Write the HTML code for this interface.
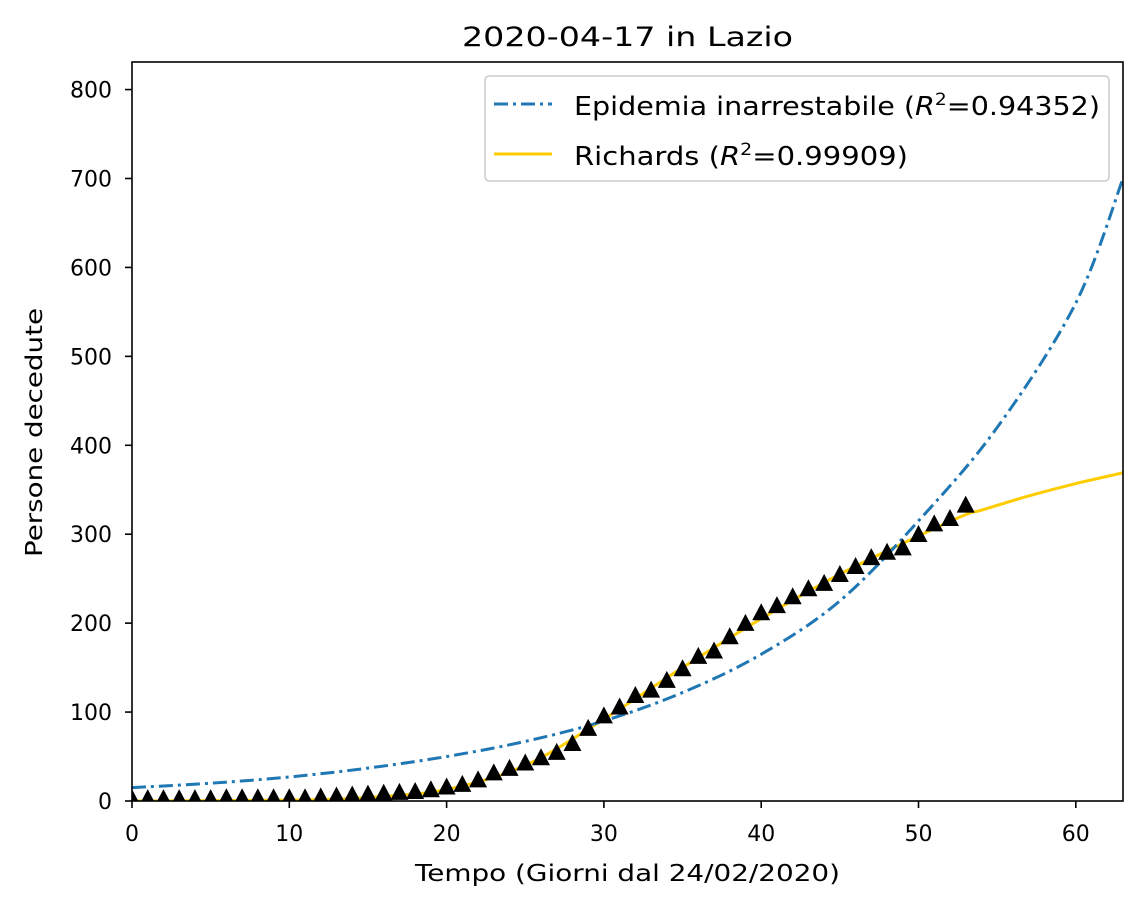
<!DOCTYPE html>
<html><head><meta charset="utf-8"><style>
body{margin:0;background:#fff;font-family:"DejaVu Sans","Liberation Sans",sans-serif}
svg text{font-family:"DejaVu Sans","Liberation Sans",sans-serif}
</style></head><body>
<svg id="c" width="1143" height="908" xmlns="http://www.w3.org/2000/svg">
<rect width="1143" height="908" fill="#fff"/>
<g id="plot"></g>
<rect x="132" y="62" width="991" height="739" fill="none" stroke="#000" stroke-width="1.6"/>
<text x="462" y="46" font-size="27" textLength="331" lengthAdjust="spacingAndGlyphs">2020-04-17 in Lazio</text>
<text x="415" y="881" font-size="23" textLength="425" lengthAdjust="spacingAndGlyphs">Tempo (Giorni dal 24/02/2020)</text>
<text transform="translate(42,557) rotate(-90)" font-size="23" textLength="249" lengthAdjust="spacingAndGlyphs">Persone decedute</text>
<g>
<rect x="485" y="76" width="624" height="105" rx="4" fill="#fff" fill-opacity="0.85" stroke="#ccc" stroke-width="1.5"/>
<line x1="494" y1="104" x2="552" y2="104" stroke="#1f77b4" stroke-width="3" stroke-dasharray="14,5,3,5"/>
<text x="574" y="115" font-size="26" textLength="526" lengthAdjust="spacingAndGlyphs">Epidemia inarrestabile (<tspan font-style="italic">R</tspan><tspan font-size="17" dy="-10">2</tspan><tspan dy="10">=0.94352)</tspan></text>
<line x1="494" y1="154" x2="552" y2="154" stroke="#ffcc00" stroke-width="3"/>
<text x="574" y="165" font-size="26" textLength="334" lengthAdjust="spacingAndGlyphs">Richards (<tspan font-style="italic">R</tspan><tspan font-size="17" dy="-10">2</tspan><tspan dy="10">=0.99909)</tspan></text>
</g>
</svg>
<script>
const xTicks=[0,10,20,30,40,50,60];
const yTicks=[0,100,200,300,400,500,600,700,800];
const expX=[0,5,10,15,20,25,30,35,40,45,50,55,60,63];
const expY=[15,20,27,37,50,67,90,122,165,225,315,420,560,700];
const richX=[0,10,15,20,25,30,35,40,45,50,53,54,57,60,63];
const richY=[0,1,4,13,40,92,150,205,255,298,322,327,343,357,369];
const obsX=[];for(let i=0;i<=53;i++)obsX.push(i);
const obsY=[1,1,1,1,1,1,2,2,2,2,2,2,3,4,5,6,7,8,9,11,14,17,22,30,35,41,47,53,63,80,94,104,117,123,134,147,161,167,183,198,210,218,228,237,243,253,262,272,278,283,298,310,316,331];
const X=v=>132+v*(991/63), Y=v=>801-v*(739/831);
const NS='http://www.w3.org/2000/svg', g=document.getElementById('plot');
function mk(t,a){const e=document.createElementNS(NS,t);for(const k in a)e.setAttribute(k,a[k]);g.appendChild(e);return e;}
xTicks.forEach(t=>{const l=mk('line',{x1:X(t),x2:X(t),y1:801,y2:808,stroke:'#000','stroke-width':1.6});


const s=mk('text',{x:X(t),y:841,'font-size':22,'text-anchor':'middle'});s.textContent=t;

});
yTicks.forEach(t=>{const l=mk('line',{x1:125,x2:132,y1:Y(t),y2:Y(t),stroke:'#000','stroke-width':1.6});


const s=mk('text',{x:112,y:Y(t)+8,'font-size':22,'text-anchor':'end'});s.textContent=t;

});
function smooth(xs,ys){let p=xs.map((x,i)=>[X(x),Y(ys[i])]);let d='M'+p[0][0]+','+p[0][1];
for(let i=0;i<p.length-1;i++){const p0=p[Math.max(i-1,0)],p1=p[i],p2=p[i+1],p3=p[Math.min(i+2,p.length-1)];
d+=' C'+(p1[0]+(p2[0]-p0[0])/6)+','+(p1[1]+(p2[1]-p0[1])/6)+' '+(p2[0]-(p3[0]-p1[0])/6)+','+(p2[1]-(p3[1]-p1[1])/6)+' '+p2[0]+','+p2[1];}return d;}
const cp=document.createElementNS(NS,'clipPath');cp.id='clip';const cr=document.createElementNS(NS,'rect');
cr.setAttribute('x',132);cr.setAttribute('y',62);cr.setAttribute('width',991);cr.setAttribute('height',739);cp.appendChild(cr);g.appendChild(cp);
const r=mk('path',{d:smooth(richX,richY),fill:'none',stroke:'#ffcc00','stroke-width':3,'clip-path':'url(#clip)'});


const e=mk('path',{d:smooth(expX,expY),fill:'none',stroke:'#1f77b4','stroke-width':3,'stroke-dasharray':'14,5,3,5','clip-path':'url(#clip)'});


obsX.forEach((x,i)=>{const cx=X(x),cy=Y(obsY[i]);
const t=mk('polygon',{points:`${cx},${cy-11} ${cx-9},${cy+6} ${cx+9},${cy+6}`,fill:'#000','clip-path':'url(#clip)'});

});
</script>
</body></html>
